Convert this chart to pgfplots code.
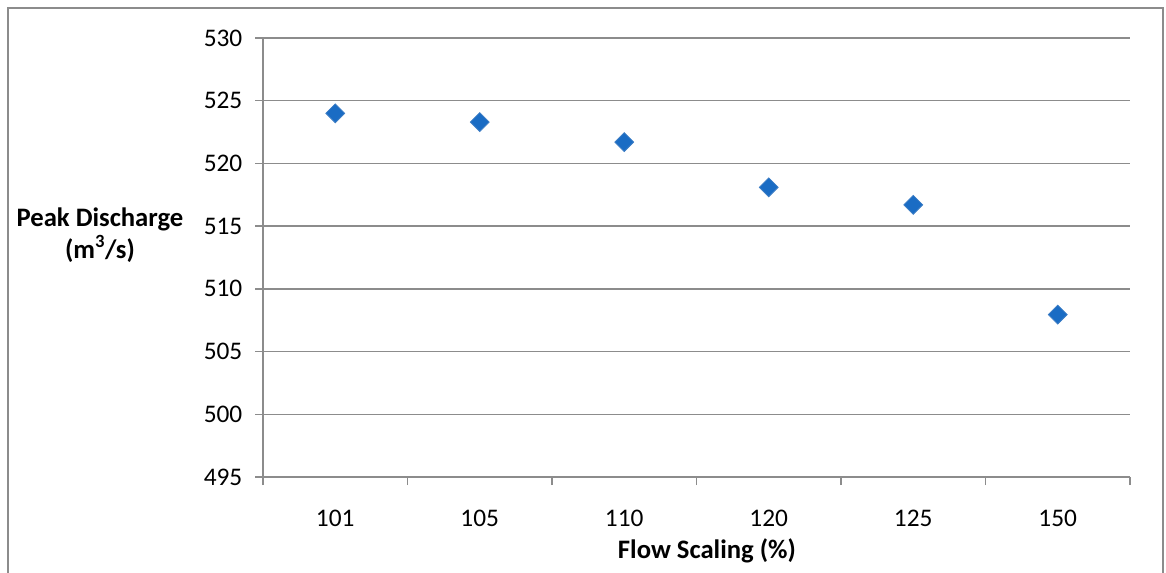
\documentclass[border=0pt]{standalone}
\usepackage{pgfplots}
\pgfplotsset{compat=1.18}
\usepackage{fontspec}
\setmainfont{Carlito}
\definecolor{gridgray}{HTML}{8C8C8C}
\definecolor{markblue}{HTML}{1A6CC4}
\definecolor{markedge}{HTML}{3C7DC4}
\begin{document}
\begin{tikzpicture}
\useasboundingbox (0,0) rectangle (874.5pt,429pt);
\draw[gridgray, line width=1.1pt] (6pt,-5pt) -- (6pt,423pt) -- (872.25pt,423pt) -- (872.25pt,-5pt);
\begin{axis}[
  at={(197.25pt,71.25pt)}, anchor=south west,
  scale only axis, width=650.25pt, height=329.25pt,
  xmin=-0.5, xmax=5.5, ymin=495, ymax=530,
  axis x line*=bottom, axis y line*=left,
  axis line style={gridgray, line width=1.1pt, -},
  xtick={0,1,2,3,4,5},
  xticklabels={101,105,110,120,125,150},
  major x tick style={draw=none},
  minor xtick={-0.5,0.5,1.5,2.5,3.5,4.5,5.5},
  minor x tick style={gridgray, line width=1.1pt},
  minor tick length=6pt,
  ytick={495,500,...,530},
  major tick length=6pt,
  tick align=outside,
  ytick style={gridgray, line width=1.1pt},
  ymajorgrids,
  grid style={gridgray, line width=1.1pt},
  tick label style={font=\fontsize{19}{22}\selectfont, text=black},
  /pgf/number format/assume math mode=true,
  yticklabel style={xshift=-6pt},
  xticklabel style={yshift=-15pt},
  xlabel={\textbf{Flow Scaling (\%)}},
  ylabel={\textbf{Peak Discharge}\\\textbf{(m\textsuperscript{3}/s)}},
  label style={font=\fontsize{20}{24}\selectfont},
  xlabel style={at={(axis description cs:0.512,-0.169)}, anchor=center},
  ylabel style={rotate=-90, align=center, at={(axis description cs:-0.188,0.552)}, anchor=center},
  clip=false,
]
\addplot[only marks, mark=square*, mark size=5pt,
  mark options={rotate=45, fill=markblue, draw=markedge, line width=0.6pt}]
  coordinates {(0,524.0) (1,523.3) (2,521.7) (3,518.1) (4,516.7) (5,507.95)};
\end{axis}
\end{tikzpicture}
\end{document}
